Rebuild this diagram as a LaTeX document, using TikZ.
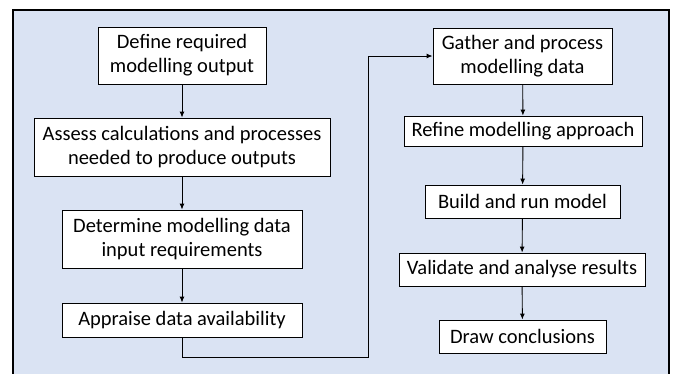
\documentclass[tikz,border=0pt]{standalone}
\usepackage{fontspec}
\setmainfont{Carlito}
\usetikzlibrary{arrows.meta}
\definecolor{bgblue}{HTML}{DAE3F3}
\tikzset{
  box/.style={draw=black, line width=0.9pt, fill=white, inner sep=0pt, align=center,
    font=\fontsize{20.5}{24}\selectfont},
  conn/.style={line width=0.9pt, -{Latex[length=6pt,width=5pt]}},
}
\begin{document}
\begin{tikzpicture}[x=1pt,y=-1pt]
\useasboundingbox (0,0) rectangle (676,373);
\fill[white] (0,0) rectangle (676,373);
\draw[fill=bgblue, line width=2pt] (13,10) rectangle (669,390);

\node[box, minimum width=168pt, minimum height=57pt] (b1) at (182,55.5) {Define required\\modelling output};
\node[box, minimum width=296pt, minimum height=58pt] (b2) at (182,147) {Assess calculations and processes\\needed to produce outputs};
\node[box, minimum width=240pt, minimum height=58pt] (b3) at (182,239) {Determine modelling data\\input requirements};
\node[box, minimum width=240pt, minimum height=34pt] (b4) at (182,320) {Appraise data availability};

\node[box, minimum width=179pt, minimum height=56pt] (b5) at (522.5,56) {Gather and process\\modelling data};
\node[box, minimum width=238pt, minimum height=30pt] (b6) at (523,131) {Refine modelling approach};
\node[box, minimum width=195pt, minimum height=33pt] (b7) at (522.5,201.5) {Build and run model};
\node[box, minimum width=246pt, minimum height=33pt] (b8) at (522,269.5) {Validate and analyse results};
\node[box, minimum width=167pt, minimum height=33pt] (b9) at (522.5,336.5) {Draw conclusions};

\coordinate (c1) at (368,357);

\draw[conn] (b1) -- (b2);
\draw[conn] (b2) -- (b3);
\draw[conn] (b3) -- (b4);
\draw[conn] (b4.south) |- (c1) |- (b5.west);
\draw[conn] (b5) -- (b6);
\draw[conn] (b6) -- (b7);
\draw[conn] (b7) -- (b8);
\draw[conn] (b8) -- (b9);
\end{tikzpicture}
\end{document}
